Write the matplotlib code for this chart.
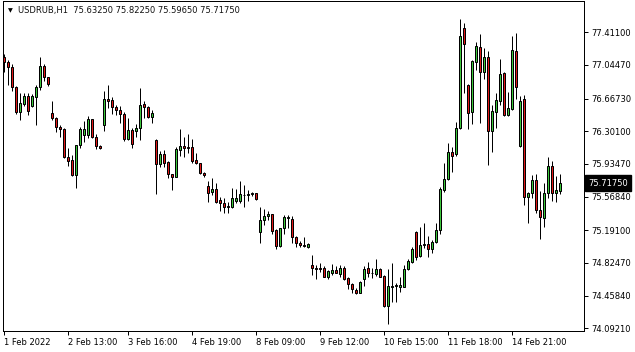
import numpy as np
import matplotlib
matplotlib.use("Agg")
import matplotlib.pyplot as plt
import matplotlib.transforms as mtransforms

# USDRUB H1, 1 Feb 2022 .. 15 Feb 2022
opens = [77.137, 77.078, 77.019, 76.801, 76.521, 76.607, 76.697, 76.585, 76.689, 76.794,
         77.033, 76.906, 76.503, 76.450, 76.346, 76.323, 76.009, 75.979, 75.808, 76.144,
         76.259, 76.259, 76.436, 76.234, 76.136, 76.372, 76.660, 76.652, 76.570, 76.540,
         76.495, 76.218, 76.316, 76.308, 76.335, 76.604, 76.577, 76.465, 76.203, 75.931,
         76.043, 75.960, 75.819, 75.792, 76.091, 76.136, 76.125, 76.122, 75.979, 75.942,
         75.837, 75.688, 75.624, 75.654, 75.531, 75.494, 75.463, 75.449, 75.523, 75.523,
         75.590, 75.583, 75.598, 75.606, 75.175, 75.306, 75.351, 75.374, 75.194, 75.015,
         75.213, 75.325, 75.318, 75.119, 75.052, 75.023, 75.007, 74.802, 74.768, 74.765,
         74.765, 74.671, 74.715, 74.746, 74.701, 74.765, 74.653, 74.585, 74.521, 74.491,
         74.641, 74.765, 74.715, 74.701, 74.754, 74.679, 74.342, 74.558, 74.566, 74.558,
         74.558, 74.754, 74.839, 75.175, 74.903, 75.026, 75.034, 74.978, 75.056, 75.194,
         75.643, 75.763, 76.066, 76.043, 76.335, 77.456, 76.820, 76.514, 77.081, 77.243,
         76.969, 77.131, 76.308, 76.521, 76.644, 76.958, 76.484, 76.551, 77.201, 76.136,
         76.660, 75.561, 75.606, 75.755, 75.419, 75.325, 75.613, 75.912, 75.613, 75.6325]
highs = [77.168, 77.100, 77.056, 76.809, 76.734, 76.734, 76.727, 76.719, 76.820, 77.137,
         77.056, 76.913, 76.641, 76.458, 76.372, 76.335, 76.110, 76.035, 76.151, 76.346,
         76.416, 76.473, 76.442, 76.271, 76.147, 76.756, 76.820, 76.689, 76.596, 76.585,
         76.521, 76.447, 76.335, 76.383, 76.783, 76.644, 76.590, 76.540, 76.215, 76.080,
         76.091, 75.968, 75.822, 76.128, 76.323, 76.240, 76.271, 76.211, 76.054, 75.949,
         75.848, 75.747, 75.774, 75.718, 75.561, 75.550, 75.512, 75.662, 75.651, 75.744,
         75.699, 75.643, 75.620, 75.613, 75.456, 75.426, 75.411, 75.379, 75.202, 75.220,
         75.362, 75.362, 75.346, 75.127, 75.071, 75.112, 75.045, 74.914, 74.802, 74.821,
         74.791, 74.746, 74.813, 74.791, 74.802, 74.785, 74.671, 74.603, 74.541, 74.622,
         74.791, 74.839, 74.765, 74.866, 74.768, 74.690, 74.754, 74.821, 74.596, 74.671,
         74.802, 74.866, 75.007, 75.183, 75.231, 75.269, 75.127, 75.082, 75.276, 75.680,
         75.949, 76.166, 76.128, 76.402, 77.557, 77.512, 76.831, 77.100, 77.306, 77.392,
         77.232, 77.205, 76.596, 76.727, 77.108, 76.969, 76.745, 77.370, 77.407, 76.697,
         76.708, 75.615, 75.811, 75.822, 75.632, 75.725, 76.016, 75.971, 75.803, 75.8225]
lows = [76.969, 76.820, 76.756, 76.495, 76.428, 76.585, 76.484, 76.570, 76.372, 76.764,
        76.868, 76.809, 76.428, 76.296, 76.240, 76.002, 75.912, 75.800, 75.662, 76.110,
        76.184, 76.222, 76.222, 76.099, 76.099, 76.308, 76.559, 76.495, 76.484, 76.391,
        76.196, 76.203, 76.110, 76.234, 76.203, 76.447, 76.447, 76.397, 75.598, 75.904,
        75.897, 75.774, 75.643, 75.785, 76.027, 76.016, 76.054, 75.949, 75.934, 75.822,
        75.792, 75.512, 75.587, 75.500, 75.411, 75.388, 75.388, 75.438, 75.494, 75.494,
        75.449, 75.523, 75.576, 75.531, 75.052, 75.250, 75.306, 75.149, 74.978, 75.007,
        75.149, 75.213, 75.045, 75.007, 75.000, 75.007, 74.989, 74.690, 74.641, 74.727,
        74.662, 74.641, 74.690, 74.709, 74.671, 74.634, 74.529, 74.484, 74.477, 74.484,
        74.566, 74.671, 74.653, 74.678, 74.664, 74.327, 74.140, 74.390, 74.390, 74.502,
        74.552, 74.746, 74.828, 74.858, 74.888, 74.989, 74.895, 74.940, 75.045, 75.149,
        75.624, 75.755, 75.848, 76.027, 76.323, 76.734, 76.323, 76.379, 76.988, 76.397,
        76.884, 75.923, 76.072, 76.341, 76.596, 76.473, 76.476, 76.540, 76.660, 76.122,
        75.475, 75.269, 75.550, 75.382, 75.090, 75.231, 75.550, 75.523, 75.512, 75.5965]
closes = [77.078, 77.019, 76.801, 76.517, 76.622, 76.697, 76.532, 76.697, 76.794, 77.033,
          76.906, 76.831, 76.450, 76.346, 76.323, 76.009, 75.971, 75.808, 76.144, 76.323,
          76.323, 76.436, 76.234, 76.136, 76.117, 76.660, 76.644, 76.570, 76.540, 76.495,
          76.211, 76.316, 76.155, 76.335, 76.596, 76.577, 76.465, 76.510, 75.931, 76.043,
          75.949, 75.819, 75.792, 76.103, 76.136, 76.117, 76.114, 75.971, 75.942, 75.837,
          75.808, 75.613, 75.654, 75.512, 75.500, 75.449, 75.449, 75.550, 75.553, 75.595,
          75.583, 75.595, 75.606, 75.539, 75.306, 75.351, 75.374, 75.186, 75.015, 75.213,
          75.337, 75.337, 75.112, 75.045, 75.023, 75.015, 75.037, 74.765, 74.760, 74.760,
          74.671, 74.735, 74.746, 74.715, 74.765, 74.641, 74.585, 74.529, 74.491, 74.611,
          74.754, 74.709, 74.709, 74.754, 74.671, 74.342, 74.566, 74.566, 74.574, 74.574,
          74.754, 74.847, 74.978, 74.895, 75.026, 75.034, 74.978, 75.056, 75.194, 75.651,
          75.763, 76.066, 76.027, 76.335, 77.370, 77.276, 76.503, 77.089, 77.257, 76.969,
          77.131, 76.308, 76.529, 76.652, 76.943, 76.484, 76.559, 77.213, 76.794, 76.644,
          75.561, 75.606, 75.755, 75.419, 75.337, 75.606, 75.912, 75.613, 75.643, 75.7175]

tick_bars = [0, 16, 31, 47, 63, 79, 95, 111, 127]
tick_labels = ['1 Feb 2022', '2 Feb 13:00', '3 Feb 16:00', '4 Feb 19:00', '8 Feb 09:00',
               '9 Feb 12:00', '10 Feb 15:00', '11 Feb 18:00', '14 Feb 21:00']
price_ticks = [77.411, 77.0447, 76.6673, 76.301, 75.9347, 75.5684, 75.191, 74.8247, 74.4584, 74.0921]

symbol = 'USDRUB,H1'
last_price = closes[-1]

plt.rcParams['font.family'] = ['DejaVu Sans']
fs = 6.0

W, H = 635, 352
fig = plt.figure(figsize=(W / 100, H / 100), dpi=100)
ax = fig.add_axes([3 / W, 21 / H, 581 / W, 330 / H])

o = np.array(opens)
h = np.array(highs)
l = np.array(lows)
c = np.array(closes)
x = np.arange(len(o))
up = c >= o

ax.vlines(x, l, h, color='black', linewidth=0.72, zorder=2)
body = np.where(np.abs(c - o) < 1e-4, 1e-4, c - o)
colors = np.where(up, '#3cc83c', '#e01818')
ax.bar(x, body, bottom=o, width=0.5, color=colors, edgecolor='black',
       linewidth=0.72, zorder=3)

ax.set_xlim(-0.125, 145.125)
ax.set_ylim(74.0617, 77.762)

ax.yaxis.tick_right()
ax.set_yticks(price_ticks)
ax.set_yticklabels(['%.5f' % v for v in price_ticks])
ax.set_xticks(tick_bars)
ax.set_xticklabels(tick_labels)
for lbl in ax.get_xticklabels():
    lbl.set_ha('left')
ax.tick_params(axis='both', direction='out', length=3, width=0.72, labelsize=fs,
               colors='black', pad=2)
ax.tick_params(axis='y', pad=2.5)
for sp in ax.spines.values():
    sp.set_color('black')
    sp.set_linewidth(0.72)

# current price marker on the price scale
trans = mtransforms.blended_transform_factory(ax.transAxes, ax.transData)
ax.text(1.007, last_price, '%.5f' % last_price, transform=trans, color='white',
        fontsize=fs, va='center', ha='left', clip_on=False, zorder=10,
        bbox=dict(boxstyle='square,pad=0.4', facecolor='black', edgecolor='black'))

# header
fig.text(10.5 / W, 1 - 10.5 / H, '\u25bc', fontsize=4.5, va='center', ha='center')
header = '%s  %.5f %.5f %.5f %.5f' % (symbol, opens[-1], highs[-1], lows[-1], closes[-1])
fig.text(18 / W, 1 - 11 / H, header, fontsize=fs, va='center', ha='left', color='#101010')

fig.savefig('out.png', dpi=100)
